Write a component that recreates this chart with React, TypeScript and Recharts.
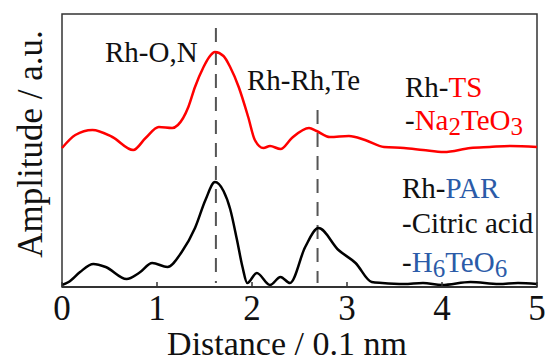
import { LineChart, Line, XAxis, YAxis, ReferenceLine, ReferenceArea } from "recharts";

// Rh-TS / Na2TeO3 (red, offset upward)
const tsDistance = [0, 0.14, 0.32, 0.53, 0.75, 0.88, 1.02, 1.16, 1.22, 1.33, 1.4, 1.49, 1.55, 1.61, 1.7, 1.77, 1.86, 1.96, 2.03, 2.12, 2.19, 2.3, 2.42, 2.6, 2.68, 2.82, 3.02, 3.19, 3.39, 3.6, 3.8, 4.02, 4.3, 4.5, 4.72, 5.0];
const tsAmplitude = [1.39, 1.52, 1.57, 1.5, 1.37, 1.49, 1.6, 1.59, 1.62, 1.8, 2.0, 2.2, 2.3, 2.35, 2.31, 2.2, 2.0, 1.7, 1.47, 1.39, 1.41, 1.38, 1.49, 1.59, 1.56, 1.5, 1.51, 1.47, 1.4, 1.39, 1.37, 1.35, 1.39, 1.4, 1.41, 1.4];

// Rh-PAR / Citric acid / H6TeO6 (black)
const parDistance = [0, 0.07, 0.19, 0.33, 0.46, 0.68, 0.81, 0.95, 1.11, 1.26, 1.4, 1.51, 1.61, 1.7, 1.77, 1.84, 1.9, 1.95, 2.05, 2.19, 2.3, 2.4, 2.56, 2.7, 2.91, 3.09, 3.26, 3.37, 3.6, 3.8, 4.0, 4.3, 4.6, 4.8, 5.0];
const parAmplitude = [0.02, 0.05, 0.15, 0.23, 0.2, 0.08, 0.14, 0.24, 0.2, 0.35, 0.59, 0.87, 1.05, 0.96, 0.78, 0.48, 0.2, 0.04, 0.14, 0.02, 0.1, 0.04, 0.4, 0.59, 0.37, 0.24, 0.05, 0.04, 0.03, 0.04, 0.02, 0.05, 0.03, 0.04, 0.03];

const xTicks = [0, 1, 2, 3, 4, 5];
const peakPositions = [1.62, 2.69];
const peakTops = [2.59, 1.77];

const tsData = tsDistance.map((d, i) => ({ d, a: tsAmplitude[i] }));
const parData = parDistance.map((d, i) => ({ d, a: parAmplitude[i] }));

const SERIF = "'Liberation Serif', 'Times New Roman', serif";
const BLUE = "#2b5ba8";

function Tick({ x, y, payload }: any) {
  return (
    <g>
      <line x1={x} x2={x} y1={y} y2={y - 5} stroke="#333" strokeWidth={1.5} />
      <text x={x} y={y + 33} textAnchor="middle" fontSize={35} fontFamily={SERIF} fill="#111">
        {payload.value}
      </text>
    </g>
  );
}

export default function App() {
  return (
    <div style={{ position: "absolute", left: 0, top: 0, width: 545, height: 362, background: "#fff" }}>
      <LineChart width={545} height={362} margin={{ top: 14, right: 8, bottom: 35, left: 62 }}>
        <XAxis
          dataKey="d"
          type="number"
          domain={[0, 5]}
          ticks={xTicks}
          height={40}
          tickSize={0}
          tickMargin={0}
          tick={<Tick />}
          axisLine={{ stroke: "#333", strokeWidth: 2 }}
          allowDuplicatedCategory={false}
        />
        <YAxis type="number" domain={[0, 2.73]} hide />
        <ReferenceArea x1={0} x2={5} y1={0} y2={2.73} fill="none" stroke="#333" strokeWidth={1.5} />
        {peakPositions.map((p, i) => (
          <ReferenceLine
            key={p}
            segment={[{ x: p, y: peakTops[i] }, { x: p, y: 0.04 }]}
            stroke="#555"
            strokeWidth={2}
            strokeDasharray="14 9"
          />
        ))}
        <Line data={tsData} dataKey="a" type="monotone" stroke="#ff0000" strokeWidth={2.5} dot={false} isAnimationActive={false} />
        <Line data={parData} dataKey="a" type="monotone" stroke="#000" strokeWidth={2.5} dot={false} isAnimationActive={false} />
      </LineChart>
      <svg width={545} height={362} style={{ position: "absolute", left: 0, top: 0, pointerEvents: "none" }} fontFamily={SERIF}>
        <text x={42} y={144} transform="rotate(-90 42 144)" textAnchor="middle" fontSize={35} fill="#111">
          Amplitude / a.u.
        </text>
        <text x={287} y={355} textAnchor="middle" fontSize={34} fill="#111">
          Distance / 0.1 nm
        </text>
        <text x={105} y={62} fontSize={29} fill="#111">Rh-O,N</text>
        <text x={247} y={90} fontSize={29} fill="#111">Rh-Rh,Te</text>
        <text x={405} y={97} fontSize={29} fill="#111">
          Rh-<tspan fill="#ff0000">TS</tspan>
        </text>
        <text x={405} y={130} fontSize={29} fill="#111">
          -<tspan fill="#ff0000">Na</tspan>
          <tspan fill="#ff0000" fontSize={25} dy={5}>2</tspan>
          <tspan fill="#ff0000" dy={-5}>TeO</tspan>
          <tspan fill="#ff0000" fontSize={25} dy={5}>3</tspan>
        </text>
        <text x={402} y={198} fontSize={29} fill="#111">
          Rh-<tspan fill={BLUE}>PAR</tspan>
        </text>
        <text x={402} y={233} fontSize={29} fill="#111">-Citric acid</text>
        <text x={402} y={272} fontSize={29} fill="#111">
          -<tspan fill={BLUE}>H</tspan>
          <tspan fill={BLUE} fontSize={25} dy={5}>6</tspan>
          <tspan fill={BLUE} dy={-5}>TeO</tspan>
          <tspan fill={BLUE} fontSize={25} dy={5}>6</tspan>
        </text>
      </svg>
    </div>
  );
}
